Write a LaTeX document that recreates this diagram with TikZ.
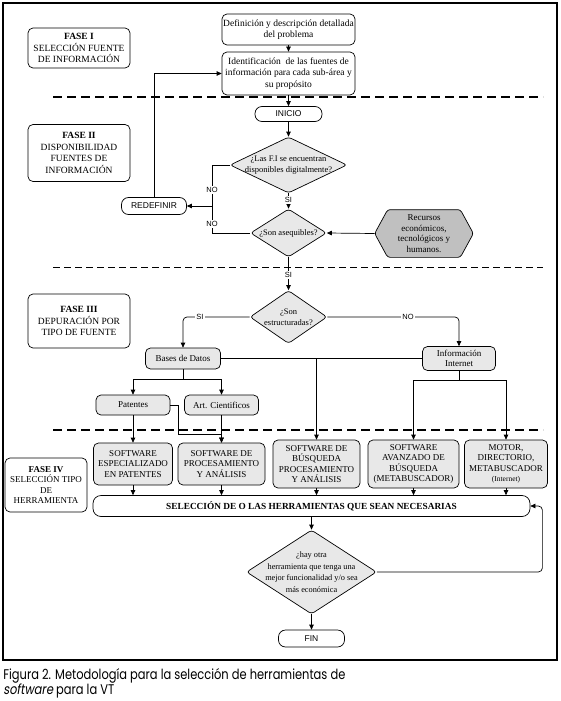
\documentclass[tikz,border=0pt]{standalone}
\usepackage{fontspec}
\usepackage{graphicx}
\setmainfont{Liberation Serif}
\newfontfamily\arialf{Liberation Sans}
\newfontfamily\capf{Poppins}
\newfontfamily\capfit{Poppins}[FakeSlant=0.2]
\usetikzlibrary{arrows.meta,shapes.geometric}
\definecolor{boxgray}{RGB}{232,232,232}
\definecolor{hexgray}{RGB}{192,192,192}
\newlength\capwidth
\AtBeginDocument{\settowidth\capwidth{\capf\fontsize{14}{16}\selectfont Figura 2. Metodología para la selección de herramientas de}}
\begin{document}
\begin{tikzpicture}[x=1pt,y=-1pt, line width=0.7pt,
 every node/.style={font=\fontsize{9}{10.5}\selectfont, align=center, inner sep=1pt},
 rbox/.style={draw, rounded corners=5pt, align=center, inner sep=0pt},
 gbox/.style={rbox, fill=boxgray},
 pill/.style={draw, rounded corners=7pt, inner sep=0pt, font=\arialf\fontsize{8.5}{10}\selectfont},
 dia/.style={draw, fill=boxgray, diamond, inner sep=0pt, rounded corners=3pt},
 diatext/.style={font=\fontsize{8.5}{10.5}\selectfont},
 bigtext/.style={font=\fontsize{9.5}{11.5}\selectfont},
 arr/.style={-{Triangle[length=5pt,width=4.5pt]}},
 lbl/.style={fill=white, font=\arialf\fontsize{7.5}{9}\selectfont, inner sep=1pt},
 thickdash/.style={line width=2.4pt, dash pattern=on 9pt off 5pt},
 thindash/.style={line width=0.8pt, dash pattern=on 7pt off 4pt},
 captxt/.style={anchor=base west, inner sep=0pt, align=left, font=\capf\fontsize{14}{16}\selectfont},
]
\useasboundingbox (0,0) rectangle (561,701);
\fill[white] (0,0) rectangle (561,701);
\draw[line width=1.3pt] (3,3) rectangle (557,660);

% ---------- FASE I ----------
\node[rbox, bigtext, minimum width=102pt, minimum height=40pt] (f1) at (79,48) {\textbf{FASE I}\\SELECCIÓN FUENTE\\DE INFORMACIÓN};
\node[rbox, bigtext, minimum width=133pt, minimum height=31pt] (def) at (288.5,29.5) {Definición y descripción detallada\\del problema};
\node[rbox, bigtext, minimum width=133pt, minimum height=43pt] (ident) at (288.5,73.5) {Identificación\ \ de las fuentes de\\información para cada sub-área y\\su propósito};
\draw[arr] (def) -- (ident);
\draw[thickdash] (53,97) -- (543,97);

% ---------- FASE II ----------
\node[pill, minimum width=67pt, minimum height=15pt] (ini) at (288.5,114) {INICIO};
\draw[arr] (ident.south) -- (ini.north);
\node[dia, minimum width=117pt, minimum height=56pt] (d1) at (288.5,165) {};
\node[diatext] (d1t) at (d1.center) {¿Las F.I se encuentran\\disponibles digitalmente?};
\draw[arr] (ini) -- (d1);
\node[rbox, bigtext, minimum width=102pt, minimum height=57pt] (f2) at (79,153) {\textbf{FASE II}\\DISPONIBILIDAD\\FUENTES DE\\INFORMACIÓN};

\node[pill, minimum width=65pt, minimum height=17pt] (red) at (154,206) {REDEFINIR};
\node[dia, minimum width=76pt, minimum height=48pt] (d2) at (288.5,233) {};
\node[diatext] (d2t) at (d2.center) {¿Son asequibles?};
\draw[arr] (d1.south) -- (d2.north);
\node[lbl] (si1) at (288.5,200) {SI};

\coordinate (nj) at (212,206);
\draw (d1.west) -- (d1.west -| nj) -- (nj);
\draw (d2.west) -- (d2.west -| nj) -- (nj);
\draw[arr] (nj) -- (red.east);
\node[lbl] (no1) at (212,190) {NO};
\node[lbl] (no2) at (212,224) {NO};
\draw[arr] (red.north) |- (ident.west);

\node[minimum width=98pt, minimum height=47pt, inner sep=0pt] (hex) at (424,233.5) {};
\draw[fill=hexgray, rounded corners=2.5pt] (hex.west) -- ([xshift=13pt]hex.north west) -- ([xshift=-13pt]hex.north east) -- (hex.east) -- ([xshift=-13pt]hex.south east) -- ([xshift=13pt]hex.south west) -- cycle;
\node (hext) at (hex.center) {Recursos\\económicos,\\tecnológicos y\\humanos.};
\draw[arr] (hex.west) -- (d2.east);

\draw[thindash] (53,267) -- (543,267);

% ---------- FASE III ----------
\node[dia, minimum width=77pt, minimum height=53pt] (d3) at (288.5,317) {};
\node[diatext] (d3t) at (d3.center) {¿Son\\estructuradas?};
\draw[arr] (d2.south) -- (d3.north);
\node[lbl] (si2) at (288.5,275) {SI};
\node[rbox, bigtext, minimum width=102pt, minimum height=54pt] (f3) at (79,321) {\textbf{FASE III}\\DEPURACIÓN POR\\TIPO DE FUENTE};

\node[gbox, minimum width=75pt, minimum height=21pt] (bd) at (183,358.5) {Bases de Datos};
\node[gbox, minimum width=73pt, minimum height=24pt] (inf) at (459,358.5) {Información\\Internet};
\draw[arr, rounded corners=4pt] (d3.west) -| (bd.north);
\draw[arr, rounded corners=4pt] (d3.east) -| (inf.north);
\node[lbl] (si3) at (200,317) {SI};
\node[lbl] (no3) at (408,317) {NO};

\node[gbox, minimum width=74pt, minimum height=20pt] (pat) at (133,405) {Patentes};
\node[gbox, minimum width=74pt, minimum height=20pt] (art) at (221.5,405) {Art. Cientificos};
\coordinate (bj) at (183,379);
\draw (bd.south) -- (bj);
\draw[arr] (bj) -| (pat.north);
\draw[arr] (bj) -| (art.north);

\draw[thickdash] (53,430) -- (543,430);

% ---------- FASE IV ----------
\node[gbox, minimum width=79pt, minimum height=42pt] (s1) at (133,464) {SOFTWARE\\ESPECIALIZADO\\EN PATENTES};
\node[gbox, minimum width=87pt, minimum height=42pt] (s2) at (221.5,464) {SOFTWARE DE\\PROCESAMIENTO\\Y ANÁLISIS};
\node[gbox, minimum width=87pt, minimum height=48pt] (s3) at (316.5,464) {SOFTWARE DE\\BÚSQUEDA\\PROCESAMIENTO\\Y ANÁLISIS};
\node[gbox, minimum width=91pt, minimum height=48pt] (s4) at (413.5,464) {SOFTWARE\\AVANZADO DE\\BÚSQUEDA\\(METABUSCADOR)};
\node[gbox, minimum width=83pt, minimum height=48pt] (s5) at (506,464) {MOTOR,\\DIRECTORIO,\\METABUSCADOR\\{\fontsize{7.5}{10.5}\selectfont(Internet)}};

\draw[arr] (pat.south) -- (s1.north);
\draw[arr] (art.south) -- (s2.north);
\draw[arr] (pat.east) -| (178,434) -| (s2.north);
\draw[arr] (bd.east) -| (s3.north);
\draw (inf.west) -- (inf.west -| s3.north);
\coordinate (ij) at (459,380);
\draw (inf.south) -- (ij);
\draw[arr] (ij) -| (s4.north);
\draw[arr] (ij) -| (s5.north);

\node[rbox, rounded corners=8pt, minimum width=437pt, minimum height=21pt, font=\bfseries\fontsize{9.3}{10}\selectfont] (sel) at (311.5,506) {SELECCIÓN DE O LAS HERRAMIENTAS QUE SEAN NECESARIAS};
\foreach \s in {s1,s2,s3,s4,s5} {\draw[arr] (\s.south) -- (\s.south |- sel.north);}

\node[rbox, minimum width=82pt, minimum height=54pt] (f4) at (46,485) {\textbf{FASE IV}\\SELECCIÓN TIPO\\DE\\HERRAMIENTA};

\node[dia, minimum width=130pt, minimum height=84pt] (d4) at (311.5,572) {};
\node[font=\fontsize{8.3}{11.5}\selectfont] (d4t) at (d4.center) {¿hay otra\\herramienta que tenga una\\mejor funcionalidad y/o sea\\más económica};
\draw[arr] (sel.south) -- (d4.north);
\draw[arr, rounded corners=4pt] (d4.east) -| ([xshift=12pt]sel.east) -- (sel.east);

\node[pill, minimum width=66pt, minimum height=17pt] (fin) at (311.5,638.5) {FIN};
\draw[arr] (d4.south) -- (fin.north);

% ---------- caption ----------
\pgfmathsetmacro\capscale{342/\capwidth}
\node[captxt] (cap1) at (3,679) {\scalebox{\capscale}[1]{Figura 2. Metodología para la selección de herramientas de}};
\node[captxt] (cap2) at (3,694) {\scalebox{\capscale}[1]{{\capfit software} para la VT}};
\end{tikzpicture}
\end{document}
